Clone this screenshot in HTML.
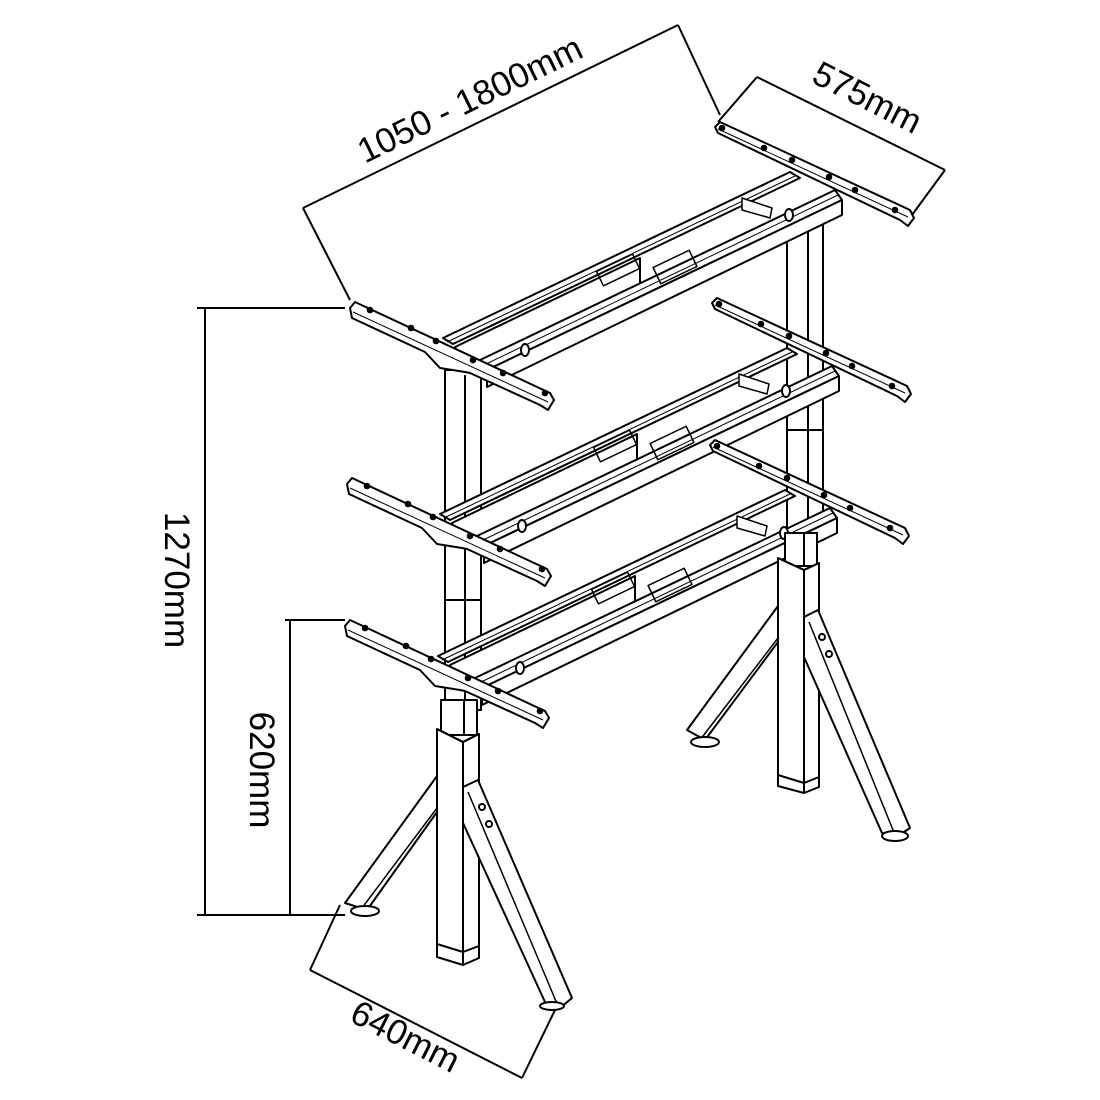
<!DOCTYPE html>
<html><head><meta charset="utf-8"><style>
html,body{margin:0;padding:0;background:#fff}
svg{display:block}
text{font-family:"Liberation Sans","DejaVu Sans",sans-serif;font-size:35px;fill:#000}
</style></head><body>
<svg width="1100" height="1100" viewBox="0 0 1100 1100" xmlns="http://www.w3.org/2000/svg">
<defs>
<g id="frame" fill="#fff" stroke="#000" stroke-width="2" stroke-linejoin="round">
  <polygon points="443,338 790,172 800,178 453,344"/>
  <line x1="447" y1="342" x2="795" y2="176" stroke-width="1"/>
  <polygon points="455,347 640,258 640,285 465,368"/>
  <polygon points="480,360 835,190 842,200 487,370"/>
  <polygon points="487,370 842,200 842,215 487,387"/>
  <line x1="484" y1="365" x2="838" y2="195" stroke-width="1"/>
  <rect x="598" y="262" width="40" height="16" fill="none" stroke-width="1.5" transform="rotate(-25.6 618 270)"/>
  <rect x="655" y="258" width="40" height="18" fill="none" stroke-width="1.5" transform="rotate(-25.6 675 267)"/>
  <ellipse cx="525" cy="350" rx="4" ry="6"/>
  <ellipse cx="789" cy="215" rx="4" ry="6"/>
  <polygon points="742,198 772,208 770,218 742,210" stroke-width="1.5"/>
  <polygon points="355,302 550,393 554,400 548,410 540,405 470,373 465,372 440,368 425,352 352,318 350,308"/>
  <line x1="353" y1="312" x2="548" y2="402" stroke-width="1"/>
  <circle cx="370" cy="310" r="2.3" fill="#000"/>
  <circle cx="411" cy="328" r="2.3" fill="#000"/>
  <circle cx="436" cy="341" r="2.3" fill="#000"/>
  <circle cx="473" cy="360" r="2.3" fill="#000"/>
  <circle cx="503" cy="373" r="2.3" fill="#000"/>
  <circle cx="545" cy="393" r="2.3" fill="#000"/>
  <polygon points="720,122 910,210 914,218 908,226 900,220 718,133 715,127"/>
  <line x1="718" y1="129" x2="908" y2="217" stroke-width="1"/>
  <circle cx="722" cy="128" r="2.3" fill="#000"/>
  <circle cx="764" cy="148" r="2.3" fill="#000"/>
  <circle cx="792" cy="160" r="2.3" fill="#000"/>
  <circle cx="829" cy="177" r="2.3" fill="#000"/>
  <circle cx="855" cy="190" r="2.3" fill="#000"/>
  <circle cx="895" cy="210" r="2.3" fill="#000"/>
</g>
</defs>
<g fill="none" stroke="#000" stroke-width="2">
  <rect x="445" y="370" width="36" height="340" fill="#fff"/>
  <line x1="465" y1="375" x2="465" y2="710"/>
  <line x1="445" y1="600" x2="481" y2="600"/>
  <rect x="787" y="215" width="36" height="325" fill="#fff"/>
  <line x1="808" y1="222" x2="808" y2="540"/>
  <line x1="787" y1="430" x2="823" y2="430"/>
</g>
<use href="#frame"/>
<use href="#frame" transform="translate(-3,176)"/>
<use href="#frame" transform="translate(-5,318)"/>
<g fill="#fff" stroke="#000" stroke-width="2" stroke-linejoin="round">
  <!-- left lower leg -->
  <polygon points="441,700 477,700 477,735 441,735"/>
  <line x1="464" y1="700" x2="464" y2="735"/>
  <polygon points="437,729 463,742 479,734 479,958 463,965 437,957"/>
  <polyline points="437,729 463,742 479,734" fill="none"/>
  <line x1="463" y1="742" x2="463" y2="965"/>
  <polyline points="437,944 463,952 479,946" fill="none"/>
  <polygon points="437,776 437,812 367,910 345,903"/>
  <line x1="437" y1="808" x2="362" y2="908" stroke-width="1.5"/>
  <ellipse cx="365" cy="911" rx="14" ry="5"/>
  <polygon points="463,787 478,780 572,998 560,1008 545,1002 463,823"/>
  <line x1="468" y1="792" x2="558" y2="1006" stroke-width="1.5"/>
  <circle cx="482" cy="807" r="3" fill="none"/>
  <circle cx="489" cy="824" r="3" fill="none"/>
  <ellipse cx="552" cy="1006" rx="12" ry="4"/>
  <!-- right lower leg -->
  <polygon points="785,533 817,533 817,566 785,566"/>
  <line x1="804" y1="533" x2="804" y2="566"/>
  <polygon points="778,558 804,570 819,563 819,787 804,793 778,786"/>
  <polyline points="778,558 804,570 819,563" fill="none"/>
  <line x1="804" y1="570" x2="804" y2="793"/>
  <polyline points="778,775 804,783 819,777" fill="none"/>
  <polygon points="778,606 778,642 705,740 687,730"/>
  <line x1="778" y1="638" x2="700" y2="740" stroke-width="1.5"/>
  <ellipse cx="705" cy="742" rx="14" ry="5"/>
  <polygon points="804,617 818,610 910,828 898,836 882,833 804,657"/>
  <line x1="809" y1="622" x2="895" y2="835" stroke-width="1.5"/>
  <circle cx="822" cy="637" r="3" fill="none"/>
  <circle cx="829" cy="654" r="3" fill="none"/>
  <ellipse cx="895" cy="836" rx="13" ry="5"/>
</g>
<g fill="none" stroke="#000" stroke-width="2">
  <line x1="303" y1="208" x2="678" y2="25"/>
  <line x1="303" y1="208" x2="350" y2="300"/>
  <line x1="678" y1="25" x2="720" y2="115"/>
  <line x1="757" y1="77" x2="945" y2="170"/>
  <line x1="757" y1="77" x2="718" y2="122"/>
  <line x1="945" y1="170" x2="912" y2="215"/>
  <line x1="205" y1="308" x2="205" y2="915"/>
  <line x1="197" y1="308" x2="345" y2="308"/>
  <line x1="197" y1="915" x2="345" y2="915"/>
  <line x1="290" y1="620" x2="290" y2="915"/>
  <line x1="285" y1="620" x2="345" y2="620"/>
  <line x1="310" y1="970" x2="522" y2="1078"/>
  <line x1="310" y1="970" x2="340" y2="905"/>
  <line x1="522" y1="1078" x2="555" y2="1010"/>
</g>
<text transform="translate(475,110) rotate(-26)" text-anchor="middle">1050 - 1800mm</text>
<text transform="translate(862,108) rotate(27)" text-anchor="middle">575mm</text>
<text transform="translate(165,580) rotate(90)" text-anchor="middle">1270mm</text>
<text transform="translate(250,770) rotate(90)" text-anchor="middle">620mm</text>
<text transform="translate(400,1047) rotate(27)" text-anchor="middle">640mm</text>
</svg>
</body></html>
